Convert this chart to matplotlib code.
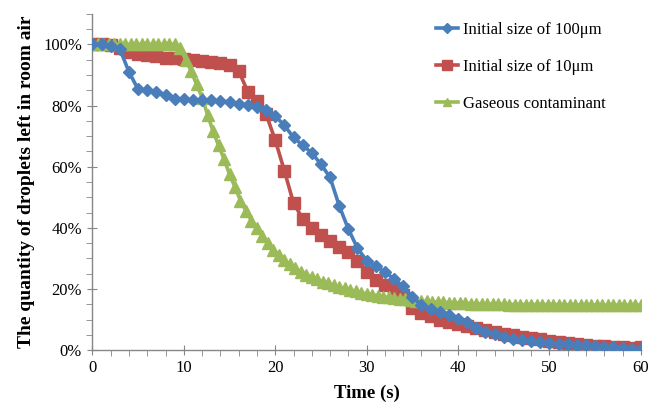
import numpy as np
import matplotlib
matplotlib.use('Agg')
import matplotlib.pyplot as plt
from matplotlib.ticker import MultipleLocator, PercentFormatter

# 数据 (fraction in %)
t_drop = np.arange(0, 61, 1)
size_100um = [100, 100, 99.5, 98.5, 91, 85.3, 85, 84.5, 83.5, 82.3,
              82, 81.8, 81.8, 81.7, 81.5, 81.2, 80.6, 80.2, 79.5, 78.5,
              76.6, 73.5, 69.6, 67, 64.5, 60.8, 56.5, 47.2, 39.6, 33.3,
              29.3, 27.4, 25.5, 23.3, 20.8, 17.4, 14.7, 13.5, 12.5, 11.4,
              10.3, 9.2, 7.1, 6.0, 5.2, 4.4, 3.6, 3.2, 2.9, 2.6,
              2.3, 2.1, 1.9, 1.7, 1.5, 1.3, 1.1, 0.9, 0.7, 0.5, 0.4]
size_10um = [100, 100, 99.7, 98.8, 97.6, 97, 96.6, 96.1, 95.7, 95.4,
             95.1, 94.8, 94.6, 94.3, 94, 93.4, 91.4, 84.5, 81.6, 77.2,
             68.7, 58.7, 48.1, 43, 40.1, 37.7, 35.6, 33.7, 32, 29,
             25.5, 23, 21.2, 19.5, 17.9, 13.9, 12.2, 11.1, 10, 9.2,
             8.5, 7.8, 7.1, 6.5, 6, 5.4, 4.9, 4.3, 3.9, 3.5,
             3, 2.6, 2.3, 2, 1.7, 1.4, 1.2, 1.0, 0.9, 0.8, 1.0]

t_gas = np.linspace(0, 60, 101)
gaseous = [100] * 16 + [
    98.8, 95, 91.3, 86.9, 82.6, 77, 71.6, 67, 62.5, 57.5,
    53.3, 48.9, 45.5, 42.3, 40, 37.2, 35, 32.9, 31.1, 29.4,
    28, 26.8, 25.7, 24.6, 23.9, 23.1, 22.4, 21.8, 21.2, 20.6,
    20.2, 19.7, 19.2, 18.8, 18.4, 18.1, 17.8, 17.5, 17.2, 17.0,
    16.8, 16.6, 16.4, 16.2, 16.1, 15.9, 15.8, 15.7, 15.6, 15.5,
    15.4, 15.4, 15.3, 15.2, 15.2, 15.1, 15.1, 15.0, 15.0, 15.0,
    14.9] + [14.9] * 9 + [14.8] * 7 + [14.7] * 8

blue = '#4A7EBB'
red = '#C0504D'
green = '#9BBB59'
gray = '#868686'

plt.rcParams['font.family'] = ['Liberation Serif', 'DejaVu Serif']

fig = plt.figure(figsize=(6.6, 4.08), dpi=100)
ax = fig.add_axes([0.140, 0.142, 0.831, 0.824])

ax.plot(t_drop, size_100um, color=blue, lw=2.6, marker='D', ms=6.5,
        label='Initial size of 100\u03bcm', zorder=3)
ax.plot(t_drop, size_10um, color=red, lw=2.6, marker='s', ms=8.5,
        label='Initial size of 10\u03bcm', zorder=2)
ax.plot(t_gas, gaseous, color=green, lw=2.6, marker='^', ms=8,
        label='Gaseous contaminant', zorder=2)

ax.set_xlim(0, 60)
ax.set_ylim(0, 110)
ax.xaxis.set_major_locator(MultipleLocator(10))
ax.xaxis.set_minor_locator(MultipleLocator(2))
ax.set_yticks(range(0, 101, 20))
ax.yaxis.set_minor_locator(MultipleLocator(5))
ax.yaxis.set_major_formatter(PercentFormatter(decimals=0))

for s in ['top', 'right']:
    ax.spines[s].set_visible(False)
for s in ['left', 'bottom']:
    ax.spines[s].set_color(gray)
    ax.spines[s].set_linewidth(1.0)

ax.tick_params(which='major', direction='inout', length=7, color=gray,
               labelsize=12, pad=4)
ax.tick_params(which='minor', direction='out', length=4, color=gray)

ax.set_xlabel('Time (s)', fontsize=13.5, fontweight='bold', labelpad=6)
ax.set_ylabel('The quantity of droplets left in room air', fontsize=14,
              fontweight='bold', labelpad=6)

ax.legend(loc='upper right', bbox_to_anchor=(0.963, 1.02), frameon=False,
          fontsize=12, handlelength=1.3, labelspacing=1.25,
          handletextpad=0.3, markerscale=0.8)

plt.savefig('out.png', dpi=100)
plt.close()
